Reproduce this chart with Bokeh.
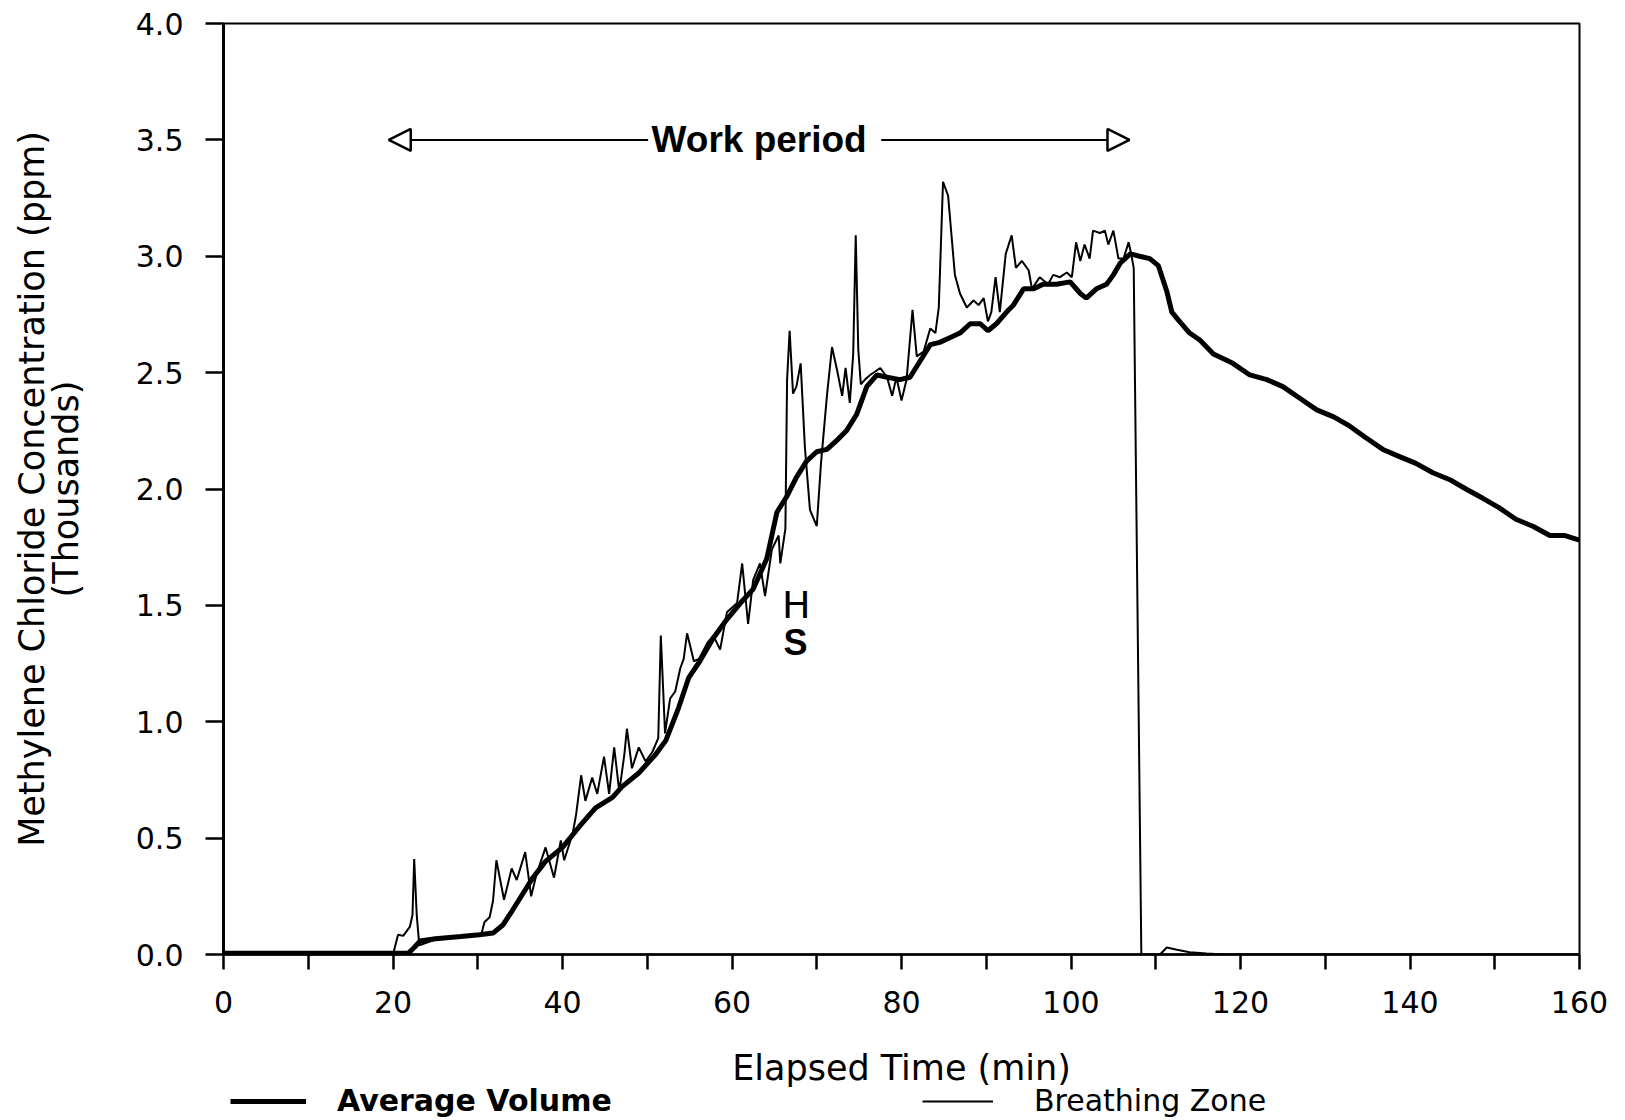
from bokeh.plotting import figure
from bokeh.layouts import column
from bokeh.models import (Range1d, FixedTicker, Label, Arrow, NormalHead, PrintfTickFormatter,
                          Legend, LegendItem)
from bokeh.embed import file_html
from bokeh.resources import INLINE

# ---- data (elapsed time in min, concentration in thousands of ppm) ----
avg_volume_points = [
    (0, 0.005), (21.8, 0.005), (22.5, 0.03), (23.2, 0.058), (25, 0.068), (28, 0.077),
    (30.2, 0.085), (31.8, 0.092), (33, 0.128), (34.1, 0.19), (35.3, 0.26), (36.5, 0.33),
    (38, 0.40), (40, 0.46), (42, 0.55), (43.9, 0.63), (45.9, 0.675), (47, 0.72),
    (49, 0.78), (51, 0.86), (52.2, 0.92), (53.7, 1.06), (54.9, 1.19), (56.2, 1.26),
    (57.8, 1.36), (59.4, 1.44), (61.0, 1.51), (62.5, 1.57), (64.1, 1.70), (65.3, 1.90),
    (66.5, 1.97), (67.6, 2.05), (68.8, 2.12), (70.0, 2.16), (71.2, 2.17), (72.4, 2.21),
    (73.5, 2.25), (74.7, 2.32), (75.9, 2.44), (77.1, 2.49), (78.3, 2.48), (79.8, 2.47),
    (81.0, 2.48), (82.2, 2.55), (83.4, 2.62), (84.5, 2.63), (85.7, 2.65), (86.9, 2.67),
    (88.1, 2.71), (89.3, 2.71), (90.2, 2.68), (91.2, 2.71), (92.4, 2.76), (93.2, 2.79),
    (94.4, 2.86), (95.6, 2.86), (96.7, 2.88), (98.3, 2.88), (99.9, 2.89), (101.1, 2.84),
    (101.8, 2.82), (103.0, 2.86), (104.2, 2.88), (105.0, 2.92), (105.8, 2.97), (107.0, 3.01),
    (108.1, 3.00), (109.3, 2.99), (110.3, 2.96), (111.3, 2.85), (111.9, 2.76), (112.8, 2.72),
    (114.0, 2.67), (115.2, 2.64), (116.8, 2.58), (119.1, 2.54), (121.1, 2.49), (123.1, 2.47),
    (125.0, 2.44), (127.0, 2.39), (129.0, 2.34), (131.0, 2.31), (132.9, 2.27), (134.8, 2.22),
    (136.8, 2.17), (138.7, 2.14), (140.7, 2.11), (142.7, 2.07), (144.7, 2.04), (146.6, 2.00),
    (148.6, 1.96), (150.5, 1.92), (152.5, 1.87), (154.5, 1.84), (156.5, 1.80), (158.3, 1.80),
    (160, 1.78),
]

breathing_zone_points = [
    (0, 0.0), (20.0, 0.0), (20.6, 0.085), (21.2, 0.08), (22.0, 0.12), (22.3, 0.17),
    (22.5, 0.41), (22.8, 0.17), (23.1, 0.04), (25, 0.064), (28, 0.074), (30.4, 0.085),
    (30.8, 0.14), (31.4, 0.16), (31.8, 0.23), (32.2, 0.405), (33.1, 0.235), (34.0, 0.37),
    (34.6, 0.32), (35.6, 0.44), (36.3, 0.25), (36.9, 0.34), (38.0, 0.46), (39.0, 0.33),
    (39.8, 0.49), (40.2, 0.405), (41.2, 0.52), (41.6, 0.60), (42.2, 0.77), (42.7, 0.66),
    (43.5, 0.76), (44.1, 0.69), (44.9, 0.85), (45.5, 0.69), (46.1, 0.89), (46.7, 0.70),
    (47.3, 0.86), (47.6, 0.97), (48.2, 0.80), (49.0, 0.89), (49.8, 0.83), (50.6, 0.87),
    (51.3, 0.93), (51.6, 1.37), (52.1, 0.95), (52.7, 1.10), (53.3, 1.13), (53.9, 1.23),
    (54.3, 1.27), (54.7, 1.38), (55.5, 1.26), (56.1, 1.27), (57.1, 1.34), (57.8, 1.37),
    (58.6, 1.31), (59.4, 1.47), (60.6, 1.51), (61.2, 1.68), (61.9, 1.42), (62.5, 1.61),
    (63.3, 1.68), (63.9, 1.54), (64.7, 1.74), (65.5, 1.80), (65.7, 1.68), (66.3, 1.83),
    (66.5, 2.47), (66.8, 2.68), (67.2, 2.41), (67.6, 2.44), (68.1, 2.54), (68.6, 2.18),
    (69.2, 1.91), (70.0, 1.84), (70.5, 2.11), (71.2, 2.40), (71.8, 2.61), (72.4, 2.51),
    (73.0, 2.40), (73.4, 2.52), (73.9, 2.37), (74.3, 2.58), (74.6, 3.09), (74.9, 2.60),
    (75.2, 2.45), (75.7, 2.47), (76.3, 2.49), (77.5, 2.52), (78.3, 2.48), (78.9, 2.40),
    (79.4, 2.48), (80.0, 2.38), (80.6, 2.47), (81.3, 2.77), (81.8, 2.57), (82.6, 2.59),
    (83.4, 2.69), (84.0, 2.67), (84.4, 2.78), (84.9, 3.32), (85.5, 3.26), (85.9, 3.09),
    (86.3, 2.92), (86.9, 2.84), (87.7, 2.78), (88.5, 2.81), (89.1, 2.79), (89.7, 2.82),
    (90.2, 2.72), (90.6, 2.76), (91.1, 2.91), (91.6, 2.76), (92.3, 3.01), (93.0, 3.09),
    (93.5, 2.95), (94.2, 2.98), (95.0, 2.94), (95.4, 2.86), (96.3, 2.91), (97.3, 2.88),
    (97.9, 2.92), (98.7, 2.91), (99.5, 2.93), (100.1, 2.91), (100.6, 3.06), (101.1, 2.98),
    (101.6, 3.05), (102.2, 2.99), (102.6, 3.11), (103.4, 3.10), (104.0, 3.11), (104.4, 3.05),
    (105.0, 3.11), (105.6, 2.99), (106.2, 2.99), (106.8, 3.06), (107.1, 3.01), (107.4, 2.95),
    (108.3, 0.0), (110.5, 0.0), (111.3, 0.03), (112.5, 0.02), (114, 0.01), (116, 0.004),
    (118, 0.0), (160, 0.0),
]

avg_time = [p[0] for p in avg_volume_points]
avg_conc = [p[1] for p in avg_volume_points]
bz_time = [p[0] for p in breathing_zone_points]
bz_conc = [p[1] for p in breathing_zone_points]

x_major_ticks = [0, 20, 40, 60, 80, 100, 120, 140, 160]
x_minor_ticks = [10, 30, 50, 70, 90, 110, 130, 150]
y_ticks = [0.0, 0.5, 1.0, 1.5, 2.0, 2.5, 3.0, 3.5, 4.0]

work_period_start = 19.5
work_period_end = 106.9

FONT = "DejaVu Sans"
W = 1625

# ---- main figure ----
p = figure(width=W, height=1090, output_backend="svg", toolbar_location=None,
           x_range=Range1d(0, 160), y_range=Range1d(0, 4))
p.min_border_left = 223
p.min_border_right = 46
p.min_border_top = 23
p.min_border_bottom = 128
p.background_fill_color = "white"
p.border_fill_color = "white"
p.outline_line_color = "black"
p.outline_line_width = 2
p.xgrid.visible = False
p.ygrid.visible = False

xa = p.xaxis[0]
xa.ticker = FixedTicker(ticks=x_major_ticks, minor_ticks=x_minor_ticks)
xa.major_tick_out = 15
xa.major_tick_in = 0
xa.minor_tick_out = 15
xa.minor_tick_in = 0
xa.major_tick_line_width = 2.5
xa.minor_tick_line_width = 2.5
xa.axis_line_width = 2.5
xa.major_label_text_font = FONT
xa.major_label_text_font_size = "30px"
xa.major_label_text_color = "black"
xa.major_label_standoff = 21
xa.axis_label = "Elapsed Time (min)"
xa.axis_label_text_font = FONT
xa.axis_label_text_font_size = "35px"
xa.axis_label_text_font_style = "normal"
xa.axis_label_text_color = "black"
xa.axis_label_standoff = 32

ya = p.yaxis[0]
ya.ticker = FixedTicker(ticks=y_ticks, minor_ticks=[])
ya.formatter = PrintfTickFormatter(format="%.1f")
ya.major_tick_out = 18
ya.major_tick_in = 0
ya.minor_tick_out = 0
ya.minor_tick_in = 0
ya.major_tick_line_width = 2.5
ya.axis_line_width = 3
ya.major_label_text_font = FONT
ya.major_label_text_font_size = "30px"
ya.major_label_text_color = "black"
ya.major_label_standoff = 22
ya.axis_label = "Methylene Chloride Concentration (ppm)\n(Thousands)"
ya.axis_label_text_font = FONT
ya.axis_label_text_font_size = "35px"
ya.axis_label_text_font_style = "normal"
ya.axis_label_text_color = "black"
ya.axis_label_text_line_height = 0.85
ya.axis_label_standoff = 47

# ---- series ----
p.line(bz_time, bz_conc, line_color="black", line_width=2)
p.line(avg_time, avg_conc, line_color="black", line_width=5)

# ---- work period annotation ----
p.add_layout(Label(x=63.2, y=3.5, text="Work period", text_align="center",
                   text_baseline="middle", text_font="Liberation Sans",
                   text_font_style="bold", text_font_size="37px", text_color="black"))
p.add_layout(Arrow(end=NormalHead(size=22, fill_color="white", line_color="black", line_width=2.5),
                   x_start=50.1, y_start=3.5, x_end=work_period_start, y_end=3.5,
                   line_color="black", line_width=2))
p.add_layout(Arrow(end=NormalHead(size=22, fill_color="white", line_color="black", line_width=2.5),
                   x_start=77.6, y_start=3.5, x_end=work_period_end, y_end=3.5,
                   line_color="black", line_width=2))

# ---- H / S marks ----
p.add_layout(Label(x=67.6, y=1.50, text="H", text_align="center", text_baseline="middle",
                   text_font=FONT, text_font_size="38px", text_color="black"))
p.add_layout(Label(x=67.5, y=1.34, text="S", text_align="center", text_baseline="middle",
                   text_font="Liberation Sans", text_font_style="bold",
                   text_font_size="36px", text_color="black"))

# ---- legend strip below the main figure (transparent, slightly overlapping) ----
lg = figure(width=W, height=44, output_backend="svg", toolbar_location=None,
            x_range=Range1d(0, 1), y_range=Range1d(0, 1),
            x_axis_location=None, y_axis_location=None)
lg.min_border_left = 0
lg.min_border_right = 0
lg.min_border_top = 0
lg.min_border_bottom = 0
lg.outline_line_color = None
lg.grid.visible = False
lg.background_fill_alpha = 0
lg.border_fill_alpha = 0
lg.margin = (-14, 0, 0, 0)
# sample renderers sit outside the visible range; they only feed the legend glyphs
s_avg = lg.line([5, 6], [5, 6], line_color="black", line_width=5)
s_bz = lg.line([5, 6], [5, 6], line_color="black", line_width=2)

leg_avg = Legend(items=[LegendItem(label="Average Volume", renderers=[s_avg])],
                 location=(7, 2), padding=0, margin=0, glyph_width=76, glyph_height=30,
                 label_height=30, label_standoff=31, label_text_font=FONT,
                 label_text_font_style="bold", label_text_font_size="30px",
                 label_text_color="black", border_line_color=None, background_fill_alpha=0)
leg_bz = Legend(items=[LegendItem(label="Breathing Zone", renderers=[s_bz])],
                location=(699, 2), padding=0, margin=0, glyph_width=71, glyph_height=30,
                label_height=30, label_standoff=41, label_text_font=FONT,
                label_text_font_style="normal", label_text_font_size="30px",
                label_text_color="black", border_line_color=None, background_fill_alpha=0)
lg.add_layout(leg_avg, "center")
lg.add_layout(leg_bz, "center")

layout = column(p, lg, spacing=0)
open("out.html", "w").write(file_html(layout, INLINE))
